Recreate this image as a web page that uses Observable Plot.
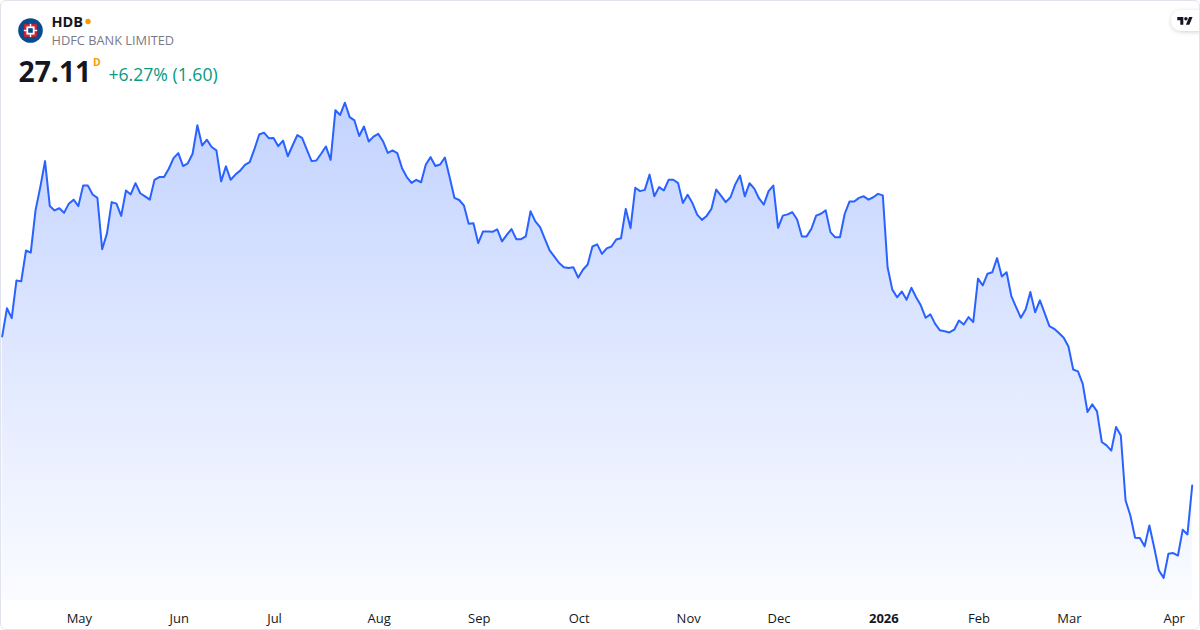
<!DOCTYPE html>
<html>
<head>
<meta charset="utf-8">
<script src="https://cdn.jsdelivr.net/npm/d3@7"></script>
<script src="https://cdn.jsdelivr.net/npm/@observablehq/plot@0.6"></script>
<style>
  html, body { margin: 0; padding: 0; background: #ffffff; }
  #card { position: relative; width: 1200px; height: 630px; overflow: hidden; background: #fff; font-family: "Open Sans", "Noto Sans", sans-serif; }
  #chart { position: absolute; left: 0; top: 0; }
  #header { position: absolute; left: 0; top: 0; }
  #frame { position: absolute; left: 0; top: 0; width: 1200px; height: 630px; box-sizing: border-box; border: 1px solid #e0e3eb; border-radius: 6px; pointer-events: none; }
</style>
</head>
<body>
<div id="card">
  <div id="chart"></div>
  <svg id="header" width="1200" height="100" xmlns="http://www.w3.org/2000/svg">
    <defs>
      <filter id="pillShadow" x="-50%" y="-80%" width="200%" height="260%">
        <feDropShadow dx="0" dy="1" stdDeviation="2" flood-color="#000" flood-opacity="0.18"/>
      </filter>
    </defs>
    <!-- company logo -->
    <circle cx="30.5" cy="30.5" r="12.3" fill="#0b4a8f"/>
    <rect x="24.2" y="24.2" width="12.6" height="12.6" fill="#e31e24"/>
    <rect x="26.4" y="26.4" width="8.2" height="8.2" fill="#ffffff"/>
    <rect x="28.2" y="28.2" width="4.6" height="4.6" fill="#0b4a8f"/>
    <rect x="29.8" y="23.8" width="1.4" height="3" fill="#ffffff"/>
    <rect x="29.8" y="34.2" width="1.4" height="3" fill="#ffffff"/>
    <rect x="23.8" y="29.8" width="3" height="1.4" fill="#ffffff"/>
    <rect x="34.2" y="29.8" width="3" height="1.4" fill="#ffffff"/>
    <text x="51.5" y="26.5" font-family="Open Sans, Noto Sans, sans-serif" font-size="14.5" font-weight="700" fill="#131722">HDB</text>
    <circle cx="88" cy="21.5" r="2.7" fill="#ff9800"/>
    <text x="51.5" y="45" font-family="Open Sans, Noto Sans, sans-serif" font-size="12.8" fill="#787b86">HDFC BANK LIMITED</text>
    <text x="18.5" y="81.5" font-family="Open Sans, Noto Sans, sans-serif" font-size="28.3" font-weight="700" fill="#131722">27.11</text>
    <text x="93" y="65.5" font-family="Open Sans, Noto Sans, sans-serif" font-size="10.5" font-weight="700" fill="#ff9800">D</text>
    <text x="108.5" y="80.5" font-family="Open Sans, Noto Sans, sans-serif" font-size="17.6" fill="#089981">+6.27% (1.60)</text>
    <!-- TradingView badge -->
    <rect x="1171" y="10" width="40" height="21" rx="10.5" fill="#ffffff" filter="url(#pillShadow)"/>
    <g transform="translate(1177.3,15.4) scale(0.43)" fill="#131722">
      <path d="M14 22H7V11H0V4h14v18zM28 22h-8l7.5-18h8L28 22z"/>
      <circle cx="20" cy="8" r="4"/>
    </g>
  </svg>
  <div id="frame"></div>
</div>
<script>
// Daily closing prices (USD), one per trading session, Apr 2025 -> Apr 2026
const prices = [
  31.98, 32.90, 32.58, 33.81, 33.78, 34.79, 34.72, 36.10, 36.86, 37.71,
  36.24, 36.10, 36.17, 36.02, 36.32, 36.45, 36.24, 36.91, 36.91, 36.62,
  36.51, 34.83, 35.34, 36.37, 36.32, 35.92, 36.75, 36.62, 36.99, 36.66,
  36.56, 36.45, 37.10, 37.19, 37.19, 37.46, 37.81, 37.97, 37.55, 37.64,
  37.95, 38.88, 38.22, 38.41, 38.17, 38.06, 37.05, 37.54, 37.10, 37.27,
  37.40, 37.59, 37.68, 38.11, 38.58, 38.64, 38.46, 38.47, 38.20, 38.38,
  37.87, 38.22, 38.56, 38.47, 38.09, 37.71, 37.73, 37.95, 38.19, 37.75,
  39.37, 39.22, 39.62, 39.15, 39.04, 38.53, 38.84, 38.35, 38.51, 38.60,
  38.36, 37.98, 38.06, 37.97, 37.48, 37.19, 37.00, 37.10, 37.02, 37.60,
  37.84, 37.55, 37.60, 37.83, 37.18, 36.51, 36.44, 36.26, 35.66, 35.68,
  35.03, 35.41, 35.41, 35.40, 35.48, 35.09, 35.30, 35.49, 35.16, 35.16,
  35.25, 36.07, 35.74, 35.55, 35.17, 34.79, 34.59, 34.38, 34.24, 34.22,
  34.24, 33.90, 34.16, 34.33, 34.92, 34.99, 34.68, 34.86, 34.92, 35.15,
  35.19, 36.15, 35.52, 36.84, 36.73, 36.77, 37.27, 36.56, 36.86, 36.75,
  37.10, 37.10, 36.99, 36.34, 36.61, 36.34, 35.96, 35.79, 35.92, 36.15,
  36.78, 36.58, 36.37, 36.53, 36.95, 37.24, 36.56, 36.99, 36.81, 36.49,
  36.29, 36.73, 36.91, 35.53, 35.93, 35.97, 36.04, 35.80, 35.25, 35.25,
  35.50, 35.93, 35.99, 36.10, 35.39, 35.22, 35.22, 35.99, 36.39, 36.39,
  36.51, 36.56, 36.45, 36.53, 36.64, 36.59, 34.24, 33.51, 33.26, 33.45,
  33.18, 33.57, 33.26, 32.99, 32.59, 32.70, 32.39, 32.18, 32.15, 32.11,
  32.20, 32.50, 32.37, 32.61, 32.45, 33.87, 33.65, 34.03, 34.08, 34.54,
  33.94, 34.08, 33.30, 32.94, 32.59, 32.86, 33.43, 32.77, 33.16, 32.74,
  32.32, 32.23, 32.09, 31.94, 31.65, 30.90, 30.84, 30.43, 29.51, 29.76,
  29.53, 28.53, 28.42, 28.25, 29.02, 28.74, 26.62, 26.13, 25.40, 25.39,
  25.12, 25.80, 25.09, 24.33, 24.09, 24.88, 24.90, 24.82, 25.66, 25.51,
  27.11
];
// Session index of the first trading day of each labelled month
const tickIndex  = [16, 37, 57, 79, 100, 121, 144, 163, 185, 205, 224, 246];
const tickLabels = ["May", "Jun", "Jul", "Aug", "Sep", "Oct", "Nov", "Dec", "2026", "Feb", "Mar", "Apr"];

const Y_MIN = 23.35, Y_MAX = 42.96;
const data = prices.map((p, i) => ({ i, price: p }));
const ticks = tickIndex.map((i, k) => ({ i, label: tickLabels[k], year: /^\d{4}$/.test(tickLabels[k]) }));

const chart = Plot.plot({
  width: 1200,
  height: 630,
  marginTop: 0,
  marginBottom: 30,
  marginLeft: 0,
  marginRight: 0,
  style: { fontFamily: "Open Sans, Noto Sans, sans-serif", background: "transparent", overflow: "visible" },
  x: { domain: [-0.357, 251.74], axis: null },
  y: { domain: [Y_MIN, Y_MAX], axis: null },
  marks: [
    Plot.areaY(data, { x: "i", y1: () => Y_MIN, y2: "price", fill: "url(#hdbGrad)" }),
    Plot.lineY(data, { x: "i", y: "price", stroke: "#2962ff", strokeWidth: 2, strokeLinejoin: "round", strokeLinecap: "round" }),
    Plot.text(ticks.filter(d => !d.year), { x: "i", text: "label", frameAnchor: "bottom", dy: 18, dx: 1, lineAnchor: "middle", fontSize: 13, fill: "#131722" }),
    Plot.text(ticks.filter(d => d.year), { x: "i", text: "label", frameAnchor: "bottom", dy: 18, dx: 1, lineAnchor: "middle", fontSize: 13, fontWeight: 700, fill: "#131722" })
  ]
});

const defs = d3.select(chart).insert("defs", ":first-child");
const grad = defs.append("linearGradient")
  .attr("id", "hdbGrad")
  .attr("gradientUnits", "userSpaceOnUse")
  .attr("x1", 0).attr("y1", 100).attr("x2", 0).attr("y2", 600);
grad.append("stop").attr("offset", 0).attr("stop-color", "#2962ff").attr("stop-opacity", 0.28);
grad.append("stop").attr("offset", 1).attr("stop-color", "#2962ff").attr("stop-opacity", 0.02);

document.getElementById("chart").appendChild(chart);
</script>
</body>
</html>
